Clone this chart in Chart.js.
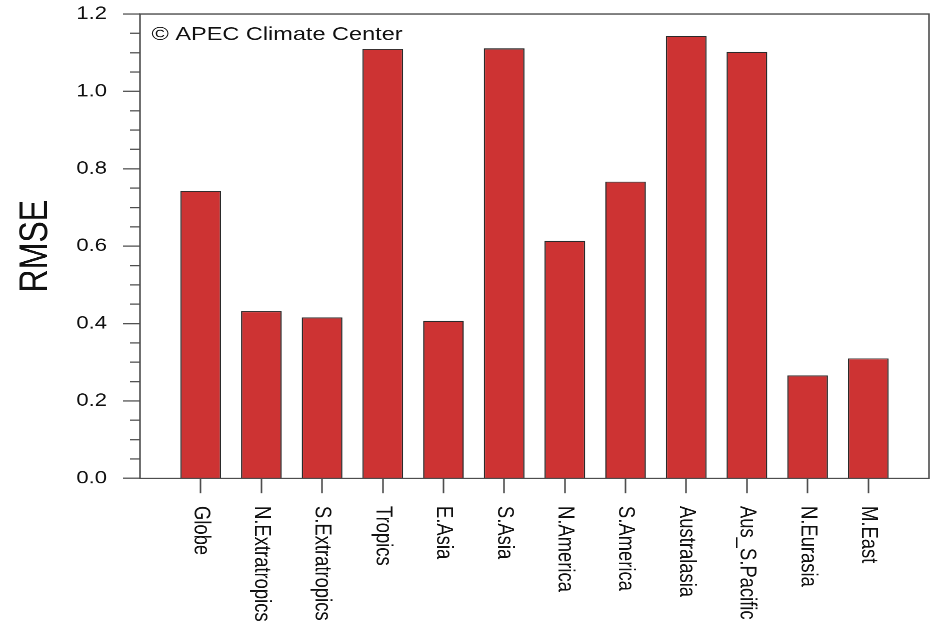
<!DOCTYPE html>
<html>
<head>
<meta charset="utf-8">
<title>RMSE by region</title>
<script src="https://cdn.jsdelivr.net/npm/chart.js@4/dist/chart.umd.min.js"></script>
<style>
  html, body { margin: 0; padding: 0; background: #ffffff; overflow: hidden; }
  body { width: 936px; height: 625px; }
  /* drawn tall, then squeezed vertically into the 625px page */
  #frame { width: 936px; height: 781px; transform: scaleY(0.80026); transform-origin: 0 0; }
</style>
</head>
<body>
<div id="frame"><canvas id="chart"></canvas></div>
<script>
const regions = ['Globe', 'N.Extratropics', 'S.Extratropics', 'Tropics', 'E.Asia', 'S.Asia',
                 'N.America', 'S.America', 'Australasia', 'Aus_S.Pacific', 'N.Eurasia', 'M.East'];
const rmse = [0.743, 0.432, 0.416, 1.110, 0.407, 1.111, 0.614, 0.767, 1.143, 1.102, 0.266, 0.310];
const yTickLabels = ['0.0', '0.2', '0.4', '0.6', '0.8', '1.0', '1.2'];
const creditText = '© APEC Climate Center';
const axisTitle = 'RMSE';

const FONT = '"Liberation Sans", Arial, Helvetica, sans-serif';
const AXIS_COLOR = '#4d4d4d';
const SQUEEZE = 0.80026;

const isMajor = v => Math.abs(v * 5 - Math.round(v * 5)) < 1e-6;

// rotated (top-to-bottom) category names under each bar, plus the credit line
const decorations = {
  id: 'decorations',
  afterDraw(chart) {
    const {ctx, chartArea, scales} = chart;
    const x = scales.x;
    ctx.save();
    ctx.fillStyle = '#111';
    ctx.font = '23px ' + FONT;
    ctx.textAlign = 'left';
    ctx.textBaseline = 'middle';
    regions.forEach((name, i) => {
      const px = x.getPixelForValue(i + 1);
      ctx.save();
      ctx.translate(px, chartArea.bottom + 34.6);
      ctx.rotate(Math.PI / 2);
      ctx.fillText(name, 0, 0);
      ctx.restore();
    });
    ctx.font = '23.5px ' + FONT;
    ctx.fillText(creditText, chartArea.left + 11.5, chartArea.top + 21 / SQUEEZE);
    // frame around the plotting area
    ctx.strokeStyle = AXIS_COLOR;
    ctx.lineWidth = 1.6;
    ctx.strokeRect(chartArea.left, chartArea.top, chartArea.right - chartArea.left, chartArea.bottom - chartArea.top);
    ctx.restore();
  }
};

new Chart(document.getElementById('chart'), {
  type: 'bar',
  data: {
    datasets: [{
      label: axisTitle,
      data: rmse.map((v, i) => ({x: i + 1, y: v})),
      backgroundColor: '#cd3333',
      borderColor: '#2a2a2a',
      borderWidth: 1.3,
      barPercentage: 0.67,
      categoryPercentage: 1.0
    }]
  },
  options: {
    responsive: true,
    maintainAspectRatio: false,
    animation: false,
    devicePixelRatio: 2,
    layout: { padding: { top: 17.5, right: 7, left: 0, bottom: 0 } },
    plugins: { legend: { display: false }, tooltip: { enabled: false } },
    scales: {
      x: {
        type: 'linear',
        offset: false,
        min: 0,
        max: regions.length + 1,
        afterBuildTicks: s => { s.ticks = regions.map((_, i) => ({value: i + 1})); },
        ticks: { display: false, stepSize: 1 },
        grid: { offset: false, drawOnChartArea: false, tickLength: 18.75, tickColor: AXIS_COLOR, tickWidth: 1.6 },
        border: { display: false },
        afterFit: s => { s.height = 781 - 597.7; s.paddingLeft = 0; s.paddingRight = 0; }
      },
      y: {
        min: 0,
        max: 1.2,
        afterBuildTicks: s => {
          const t = [];
          for (let k = 0; k <= 24; k++) t.push({value: k * 0.05});
          s.ticks = t;
        },
        ticks: {
          autoSkip: false,
          padding: 16,
          color: '#111',
          font: { family: FONT, size: 22 },
          callback: v => isMajor(v) ? yTickLabels[Math.round(v * 5)] : ''
        },
        grid: {
          drawOnChartArea: false,
          tickLength: 17,
          tickColor: AXIS_COLOR,
          tickWidth: 1.6,
          tickBorderDash: ctx => (ctx.tick && isMajor(ctx.tick.value)) ? [] : [0, 7, 10, 100]
        },
        border: { display: false },
        title: {
          display: true,
          text: axisTitle,
          color: '#111',
          font: { family: FONT, size: 40 },
          padding: { top: 12, bottom: 0 }
        },
        afterFit: s => { s.width = 140; s.paddingTop = 0; s.paddingBottom = 0; }
      }
    }
  },
  plugins: [decorations]
});
</script>
</body>
</html>
